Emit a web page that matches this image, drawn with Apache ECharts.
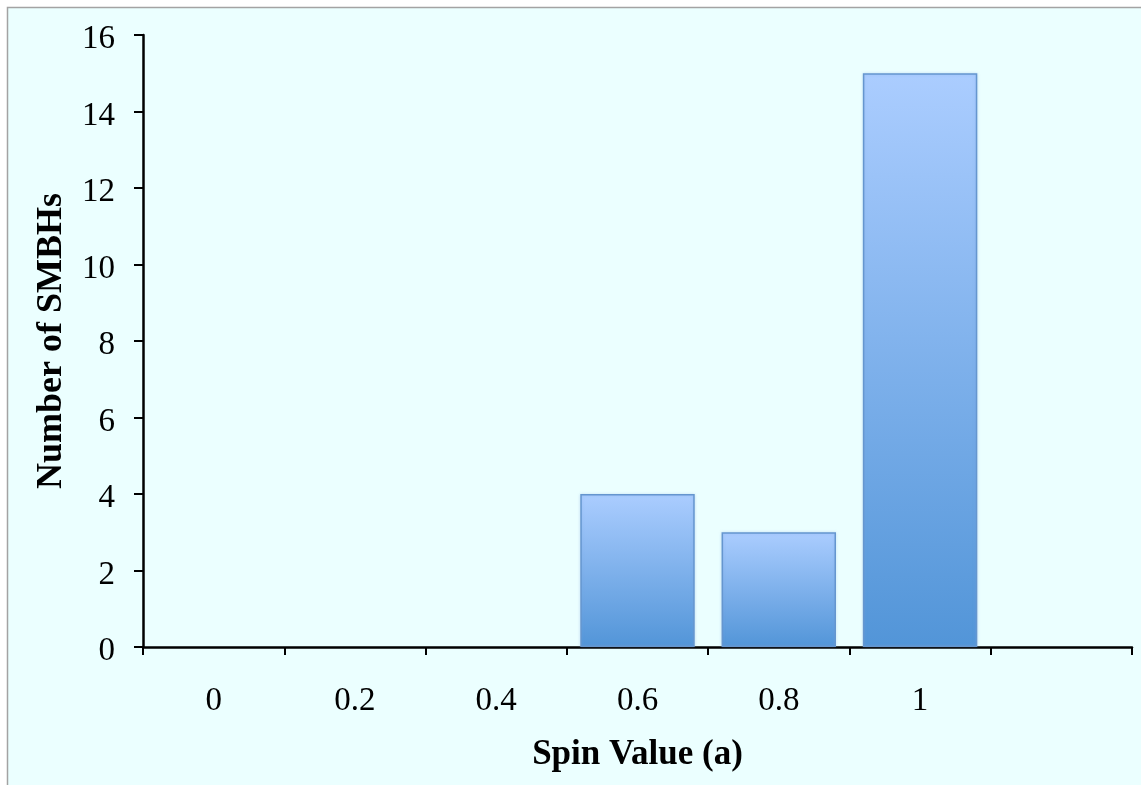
<!DOCTYPE html>
<html>
<head>
<meta charset="utf-8">
<script src="https://cdn.jsdelivr.net/npm/echarts@6/dist/echarts.min.js"></script>
<style>
html,body{margin:0;padding:0;background:#ffffff;}
#chart{width:1141px;height:785px;}
</style>
</head>
<body>
<div id="chart"></div>
<script>
const categories = ['0', '0.2', '0.4', '0.6', '0.8', '1', ''];
const counts = [0, 0, 0, 4, 3, 15, null];
const yTicks = [0, 2, 4, 6, 8, 10, 12, 14, 16];
const xTitle = 'Spin Value (a)';
const yTitle = 'Number of SMBHs';

const chart = echarts.init(document.getElementById('chart'), null, {renderer: 'canvas'});
const font = '"Liberation Serif", "Times New Roman", serif';
chart.setOption({
  backgroundColor: '#ffffff',
  animation: false,
  graphic: [{
    type: 'rect',
    z: -100,
    silent: true,
    shape: {x: 7.5, y: 7.5, width: 1200, height: 900},
    style: {fill: '#ebffff', stroke: '#a3a3a3', lineWidth: 1.5}
  }],
  grid: {left: 143, right: 9, top: 35, bottom: 138},
  xAxis: {
    type: 'category',
    data: categories,
    boundaryGap: true,
    name: xTitle,
    nameLocation: 'middle',
    nameGap: 90,
    nameTextStyle: {fontFamily: font, fontWeight: 'bold', fontSize: 35, color: '#000'},
    axisLine: {lineStyle: {color: '#000', width: 2.5}},
    axisTick: {show: true, alignWithLabel: false, length: 8, lineStyle: {color: '#000', width: 2}},
    axisLabel: {fontFamily: font, fontSize: 33, color: '#000', margin: 38, interval: 0},
    splitLine: {show: false}
  },
  yAxis: {
    type: 'value',
    min: yTicks[0],
    max: yTicks[yTicks.length - 1],
    interval: 2,
    name: yTitle,
    nameLocation: 'middle',
    nameGap: 73,
    nameRotate: 90,
    nameTextStyle: {fontFamily: font, fontWeight: 'bold', fontSize: 36, color: '#000'},
    axisLine: {show: true, lineStyle: {color: '#000', width: 2.5}},
    axisTick: {show: true, length: 9, lineStyle: {color: '#000', width: 2}},
    axisLabel: {
      margin: 28,
      formatter: v => '{t|' + v + '}',
      rich: {t: {fontFamily: font, fontSize: 33, color: '#000', padding: [9, 0, 0, 0]}}
    },
    splitLine: {show: false}
  },
  series: [{
    type: 'bar',
    data: counts.map(v => (v === 0 || v === null) ? '-' : v),
    barCategoryGap: '19%',
    itemStyle: {
      color: new echarts.graphic.LinearGradient(0, 0, 0, 1, [
        {offset: 0, color: '#abcdff'},
        {offset: 1, color: '#5295d8'}
      ]),
      borderColor: '#6596cf',
      borderWidth: 1.5,
      shadowColor: 'rgba(120,160,220,0.35)',
      shadowBlur: 3
    }
  }]
});
</script>
</body>
</html>
